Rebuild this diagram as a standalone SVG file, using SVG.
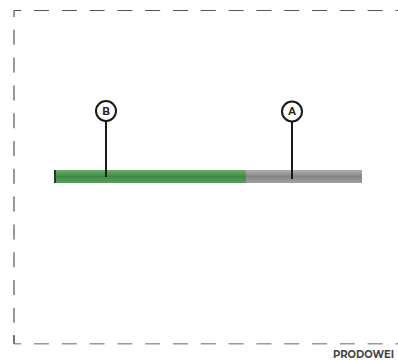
<svg xmlns="http://www.w3.org/2000/svg" width="398" height="361" viewBox="0 0 398 361">
<defs>
<linearGradient id="gGreen" x1="0" y1="0" x2="0" y2="1">
<stop offset="0" stop-color="#6cae6c"/>
<stop offset="0.5" stop-color="#3f8a45"/>
<stop offset="1" stop-color="#5a9e5c"/>
</linearGradient>
<linearGradient id="gGray" x1="0" y1="0" x2="0" y2="1">
<stop offset="0" stop-color="#b0b0b0"/>
<stop offset="0.5" stop-color="#858585"/>
<stop offset="1" stop-color="#a0a0a0"/>
</linearGradient>
<style>
.frame{fill:none;stroke:#555;stroke-width:1.2;stroke-dasharray:15 12.8;}
.frameLight{fill:none;stroke:#9a9a9a;stroke-width:1.6;stroke-dasharray:15 12.8;}
.lead{stroke:#1a1a1a;stroke-width:2;fill:none;}
.bubble{fill:#fff;stroke:#1a1a1a;stroke-width:2;}
.lbl{font-family:"Montserrat","Liberation Sans",Arial,sans-serif;font-weight:bold;font-size:10px;fill:#222;text-anchor:middle;}
.brand{font-family:"Montserrat","Liberation Sans",Arial,sans-serif;font-weight:bold;font-size:10px;fill:#444;}
</style>
</defs>
<g id="frame">
<line class="frame" x1="14" y1="10.5" x2="420" y2="10.5" stroke-dashoffset="7.8"/>
<line class="frame" x1="14" y1="10.5" x2="14" y2="343.7" stroke-dashoffset="8.5"/>
<line class="frameLight" x1="14" y1="343.7" x2="420" y2="343.7" stroke-dashoffset="7.8"/>
<line class="frame" x1="14" y1="343.7" x2="14" y2="335"/>
</g>
<g id="bar">
<rect x="246" y="170" width="116" height="13" fill="url(#gGray)"/>
<rect x="54" y="170" width="192" height="13" fill="url(#gGreen)"/>
<rect x="54" y="170" width="2" height="13" fill="#2a3a2a"/>
</g>
<g id="connectors">
<line class="lead" x1="106" y1="121" x2="106" y2="177"/>
<line class="lead" x1="292" y1="121" x2="292" y2="179"/>
</g>
<g id="callout-B">
<circle class="bubble" cx="106" cy="111" r="10"/>
<text class="lbl" x="106" y="114.5">B</text>
</g>
<g id="callout-A">
<circle class="bubble" cx="292" cy="111.5" r="10"/>
<text class="lbl" x="292" y="115">A</text>
</g>
<g id="brand">
<text class="brand" x="333" y="357.5" textLength="61" lengthAdjust="spacingAndGlyphs">PRODOWEI</text>
</g>
</svg>
